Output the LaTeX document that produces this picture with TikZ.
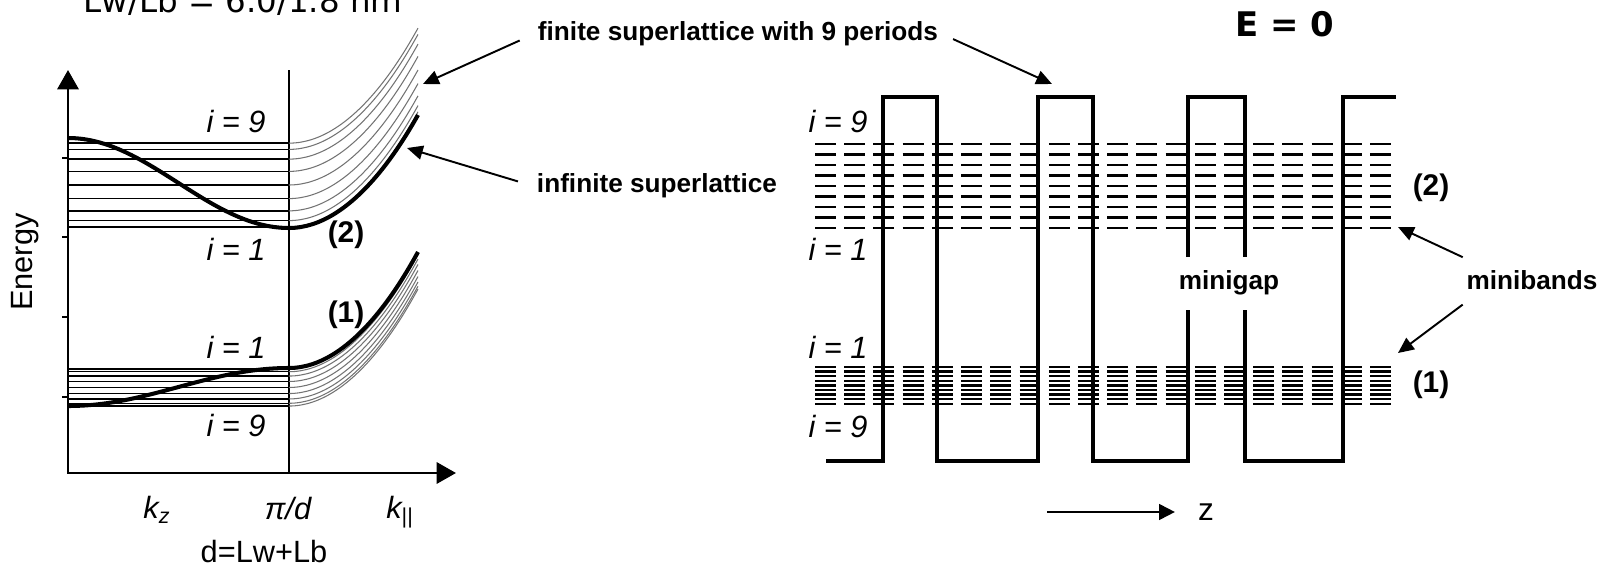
\documentclass[tikz,border=0pt]{standalone}
\usepackage{fontspec}
\setmainfont{Liberation Sans}
\newfontfamily\dejavu{DejaVu Sans}
\usetikzlibrary{arrows.meta}

\begin{document}
\begin{tikzpicture}[
  x=0.02cm, y=-0.02cm,
  every node/.style={font=\fontsize{17.5}{20}\selectfont,inner sep=2pt},
  lbl/.style={font=\fontsize{17.5}{20}\selectfont\itshape},
  note/.style={font=\fontsize{14.9}{18}\selectfont\bfseries},
  bandno/.style={font=\fontsize{17}{20}\selectfont\bfseries},
  axis/.style={line width=1.7pt,{Triangle[length=11pt,width=12pt]}-{Triangle[length=11pt,width=12pt]}},
  pointer/.style={-{Triangle[length=9pt,width=8pt]},line width=1.1pt},
  level/.style={line width=1pt},
  levelb/.style={line width=0.7pt},
  disp/.style={line width=0.6pt,draw=black!55},
  bulk/.style={line width=2.3pt},
  pot/.style={line width=2.3pt,line join=miter},
  minitwo/.style={line width=1.6pt,dash pattern=on 11.9pt off 4.73pt},
  minione/.style={line width=1.35pt,dash pattern=on 11.9pt off 4.73pt}
]
  \useasboundingbox (0,0) rectangle (1614,578);
  \clip (0,0) rectangle (1614,578);

  % Dispersion of the superlattice minibands.
  \node[anchor=base,font=\fontsize{18.5}{20}\selectfont\dejavu] (title) at (243,12) {Lw/Lb = 6.0/1.8 nm};
  \draw[axis] (68,70) -- (68,473) -- (456,473);
  \draw[line width=1.1pt] (289,70) -- (289,473);
  \foreach \t in {158,237,317,397}
    \draw[line width=1.1pt] (62,\t) -- (68,\t);
  \foreach \i in {1,...,9} {
    \draw[level] (68,{185+44*cos(18*\i)}) -- (289,{185+44*cos(18*\i)});
    \draw[disp] (289,{185+44*cos(18*\i)}) parabola ++(129,-115);
    \draw[levelb] (68,{387.5-19.5*cos(18*\i)}) -- (289,{387.5-19.5*cos(18*\i)});
    \draw[disp] (289,{387.5-19.5*cos(18*\i)}) parabola ++(129,-117);
  }
  \draw[bulk] plot[domain=68:289,samples=60] (\x,{183-45*cos(0.8145*(\x-68))}) parabola (418,115);
  \draw[bulk] plot[domain=68:289,samples=60] (\x,{387+19*cos(0.8145*(\x-68))}) parabola (418,252);
  \node[lbl] (lnine) at (236,122) {i = 9};
  \node[lbl] (lone) at (236,249) {i = 1};
  \node[lbl] (lonelow) at (236,347) {i = 1};
  \node[lbl] (lninelow) at (236,426) {i = 9};
  \node[bandno] (lbandtwo) at (346,235) {(2)};
  \node[bandno] (lbandone) at (346,315) {(1)};
  \node[rotate=90] (energy) at (25,262) {Energy};
  \node[lbl] (kz) at (157,510) {k\textsubscript{z}};
  \node[lbl] (kpi) at (288,509) {π/d};
  \node (kpar) at (400,512) {\itshape k\textsubscript{\upshape ||}};
  \node (period) at (264,552) {d=Lw+Lb};

  % Potential profile with the minibands.
  \node[font=\fontsize{19.3}{22}\selectfont\dejavu\bfseries] (ezero) at (1285,24) {E = 0};
  \foreach \i in {0,...,8} {
    \draw[minitwo] (815,{144+10.5*\i}) -- (1394,{144+10.5*\i});
    \draw[minione] (815,{367+4.6*\i}) -- (1394,{367+4.6*\i});
  }
  \draw[pot] (826,461) -- (883,461) -- (883,97) -- (937,97) -- (937,461)
    -- (1038,461) -- (1038,97) -- (1093,97) -- (1093,461) -- (1188,461) -- (1188,310)
    (1188,257) -- (1188,97) -- (1245,97) -- (1245,257)
    (1245,310) -- (1245,461) -- (1343,461) -- (1343,97) -- (1396,97);
  \node[lbl] (rnine) at (838,122) {i = 9};
  \node[lbl] (rone) at (838,249) {i = 1};
  \node[lbl] (ronelow) at (838,347) {i = 1};
  \node[lbl] (rninelow) at (838,427) {i = 9};
  \node[bandno] (rbandtwo) at (1431,188) {(2)};
  \node[bandno] (rbandone) at (1431,385) {(1)};
  \node[note] (minigap) at (1229,283) {minigap};
  \node[note] (minibands) at (1532,280) {minibands};
  \coordinate (mbtwo) at (1398,227);
  \coordinate (mbone) at (1398,353);
  \draw[pointer] ([yshift=13pt]minibands.west) -- (mbtwo);
  \draw[pointer] ([yshift=-14pt]minibands.west) -- (mbone);
  \node[font=\fontsize{18}{20}\selectfont] (zlabel) at (1206,512) {z};
  \coordinate (zstart) at (1047,512);
  \draw[-{Triangle[length=9pt,width=9pt]},line width=1.1pt,shorten >=11pt] (zstart) -- (zlabel.west);

  % Labels between the two panels.
  \node[note] (finite) at (738,34) {finite superlattice with 9 periods};
  \node[note] (infinite) at (657,186) {infinite superlattice};
  \coordinate (fintip) at (423,84);
  \coordinate (bartip) at (1052,84);
  \coordinate (inftip) at (407,148);
  \draw[pointer,shorten <=9pt] (finite.west) -- (fintip);
  \draw[pointer,shorten <=7pt] (finite.east) -- (bartip);
  \draw[pointer,shorten <=9pt] (infinite.west) -- (inftip);
\end{tikzpicture}
\end{document}
